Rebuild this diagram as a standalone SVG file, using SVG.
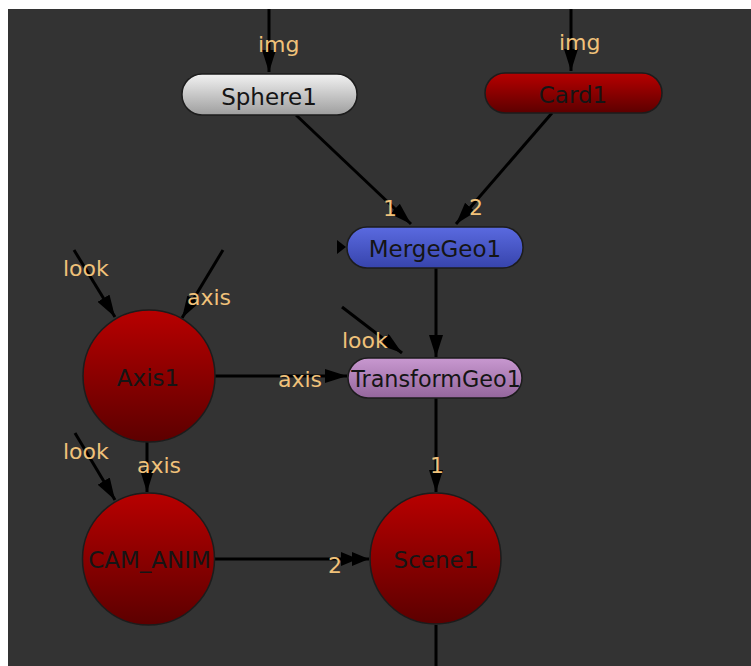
<svg xmlns="http://www.w3.org/2000/svg" width="751" height="666" viewBox="0 0 751 666">
<style>
.edge{stroke:#000;stroke-width:3;fill:none}
.arr{marker-end:url(#ah)}
.lbl{font-family:"DejaVu Sans","Verdana",sans-serif;font-size:22px;fill:#f0c27a}
.nt{font-family:"DejaVu Sans","Verdana",sans-serif;font-size:23px;fill:#151515;text-anchor:middle}
.ol{stroke:#1c1c1c;stroke-width:1.5}
</style>
<defs>
<marker id="ah" markerUnits="userSpaceOnUse" markerWidth="24" markerHeight="14" refX="22" refY="7" orient="auto">
<path d="M0,0 L22,7 L0,14 z" fill="#000"/>
</marker>
<marker id="ah2" markerUnits="userSpaceOnUse" markerWidth="30" markerHeight="14" refX="28" refY="7" orient="auto">
<path d="M0,0 L17,7 L0,14 z M11,0 L28,7 L11,14 z" fill="#000"/>
</marker>
<linearGradient id="gGrey" x1="0" y1="0" x2="0" y2="1"><stop offset="0" stop-color="#f2f2f2"/><stop offset="1" stop-color="#9e9e9e"/></linearGradient>
<linearGradient id="gRed" x1="0" y1="0" x2="0" y2="1"><stop offset="0" stop-color="#b80000"/><stop offset="1" stop-color="#5c0000"/></linearGradient>
<linearGradient id="gBlue" x1="0" y1="0" x2="0" y2="1"><stop offset="0" stop-color="#5a6ae0"/><stop offset="1" stop-color="#3744ac"/></linearGradient>
<linearGradient id="gPurple" x1="0" y1="0" x2="0" y2="1"><stop offset="0" stop-color="#c898d0"/><stop offset="1" stop-color="#94669c"/></linearGradient>
</defs>
<rect x="0" y="0" width="751" height="666" fill="#ffffff"/>
<rect x="8" y="9" width="743" height="657" fill="#333333"/>

<g id="connectors">
<line class="edge arr" x1="269" y1="9" x2="269" y2="72"/>
<line class="edge arr" x1="571" y1="9" x2="571" y2="71"/>
<line class="edge arr" x1="296" y1="115" x2="411" y2="224"/>
<line class="edge arr" x1="552" y1="113" x2="456" y2="224"/>
<line class="edge arr" x1="436" y1="268" x2="436" y2="357"/>
<line class="edge arr" x1="436" y1="398" x2="436" y2="492"/>
<line class="edge arr" x1="215" y1="376" x2="347" y2="376"/>
<line class="edge arr" x1="147" y1="442" x2="147" y2="492"/>
<line class="edge" x1="214" y1="559" x2="369" y2="559" marker-end="url(#ah2)"/>
<line class="edge" x1="436" y1="625" x2="436" y2="666"/>
<line class="edge arr" x1="74" y1="250" x2="115" y2="317"/>
<line class="edge arr" x1="223" y1="250" x2="182" y2="318"/>
<line class="edge arr" x1="75" y1="433" x2="115" y2="500"/>
<line class="edge arr" x1="342" y1="307" x2="402" y2="353"/>
<path d="M337,240 L346,247 L337,254 z" fill="#000"/>
<text class="lbl" x="258" y="52">img</text>
<text class="lbl" x="559" y="50">img</text>
<text class="lbl" x="383" y="216">1</text>
<text class="lbl" x="469" y="215">2</text>
<text class="lbl" x="342" y="348">look</text>
<text class="lbl" x="278" y="387">axis</text>
<text class="lbl" x="63" y="276">look</text>
<text class="lbl" x="187" y="305">axis</text>
<text class="lbl" x="63" y="459">look</text>
<text class="lbl" x="137" y="473">axis</text>
<text class="lbl" x="430" y="473">1</text>
<text class="lbl" x="328" y="573">2</text>
</g>

<g id="Sphere1">
<rect class="ol" x="182" y="74" width="175" height="41" rx="20" fill="url(#gGrey)"/>
<text class="nt" x="269" y="105">Sphere1</text>
</g>
<g id="Card1">
<rect class="ol" x="485" y="73" width="177" height="40" rx="20" fill="url(#gRed)"/>
<text class="nt" x="573" y="103">Card1</text>
</g>
<g id="MergeGeo1">
<rect class="ol" x="347" y="227" width="176" height="41" rx="20" fill="url(#gBlue)"/>
<text class="nt" x="435" y="257">MergeGeo1</text>
</g>
<g id="TransformGeo1">
<rect class="ol" x="348" y="358" width="174" height="40" rx="20" fill="url(#gPurple)"/>
<text class="nt" x="436" y="387" style="font-size:22.3px">TransformGeo1</text>
</g>
<g id="Axis1">
<circle class="ol" cx="149" cy="376" r="66" fill="url(#gRed)"/>
<text class="nt" x="148" y="386">Axis1</text>
</g>
<g id="CAM_ANIM">
<circle class="ol" cx="148.5" cy="559" r="66" fill="url(#gRed)"/>
<text class="nt" x="149.5" y="568">CAM_ANIM</text>
</g>
<g id="Scene1">
<circle class="ol" cx="435.5" cy="558.5" r="65.5" fill="url(#gRed)"/>
<text class="nt" x="436" y="568">Scene1</text>
</g>
</svg>
